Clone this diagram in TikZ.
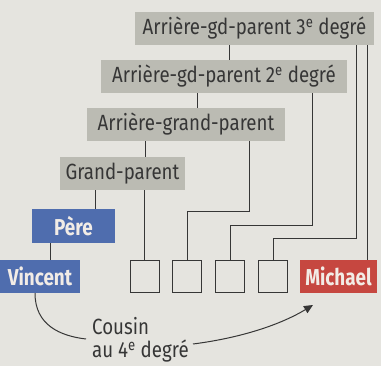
\documentclass[tikz,border=0pt]{standalone}
\usepackage{fontspec}
\setmainfont{Fira Sans}[FakeStretch=0.85]
\newfontfamily\boldfam{Fira Sans}[FakeStretch=0.82]
\usetikzlibrary{arrows.meta}
\definecolor{paper}{HTML}{E5E4DF}
\definecolor{boxgray}{HTML}{BBBBB3}
\definecolor{boxblue}{HTML}{4F6DAE}
\definecolor{boxred}{HTML}{C64740}
\definecolor{ink}{HTML}{363636}
\definecolor{light}{HTML}{F2ECE6}
\tikzset{
  gbox/.style={fill=boxgray, text=ink, inner sep=0pt, minimum height=33pt,
    font=\fontsize{22}{23}\selectfont},
  cbox/.style={inner sep=0pt, minimum height=34pt, text=light,
    font=\boldfam\bfseries\fontsize{23}{24}\selectfont},
  sbox/.style={draw=ink, line width=0.8pt, minimum width=29pt, minimum height=32pt, inner sep=0pt},
  link/.style={draw=ink, line width=0.8pt},
  ctext/.style={anchor=base west, inner sep=0pt, text=ink, font=\fontsize{22}{23}\selectfont},
}
\begin{document}
\begin{tikzpicture}[x=1pt,y=-1pt]
\useasboundingbox (0,0) rectangle (381,366);
\fill[paper] (0,0) rectangle (381,366);
% gray boxes
\node[gbox, minimum width=239pt] (g3) at (254.5,28.5) {Arrière-gd-parent 3\textsuperscript{e} degré};
\node[gbox, minimum width=246pt] (g2) at (224,76.5) {Arrière-gd-parent 2\textsuperscript{e} degré};
\node[gbox, minimum width=198pt] (g1) at (186,124.5) {Arrière-grand-parent};
\node[gbox, minimum width=125pt] (g0) at (122.5,173.5) {Grand-parent};
% coloured boxes
\node[cbox, fill=boxblue, minimum width=83pt] (pere) at (73.5,226) {Père};
\node[cbox, fill=boxblue, minimum width=80pt, minimum height=33pt] (vin) at (40,276.5) {Vincent};
\node[cbox, fill=boxred, minimum width=77pt, minimum height=33pt] (mic) at (338.5,276.5) {Michael};
% small boxes
\node[sbox] (b1) at (144.5,276.5) {};
\node[sbox] (b2) at (187,276.5) {};
\node[sbox] (b3) at (230,276.5) {};
\node[sbox] (b4) at (273,276.5) {};
% ancestry links
\draw[link] (g3.south -| 229,0) -- (g2.north -| 229,0);
\draw[link] (g2.south -| 197,0) -- (g1.north -| 197,0);
\draw[link] (g1.south -| 145,0) -- (g0.north -| 145,0);
\draw[link] (g0.south -| 95,0) -- (pere.north -| 95,0);
\draw[link] (pere.south -| 50,0) -- (vin.north -| 50,0);
% descent links
\draw[link] (g0.south -| b1.north) -- (b1.north);
\draw[link] (g1.south -| 249,0) -- (249,211) -| (b2.north);
\draw[link] (g2.south -| 312,0) -- (312,225) -| (b3.north);
\draw[link] (g3.south -| 356,0) -- (356,238) -| (b4.north);
\draw[link] (g3.south -| 367,0) -- (mic.north -| 367,0);
% cousin arrow
\node[ctext] (cous1) at (92,335) {Cousin};
\node[ctext] (cous2) at (92,358) {au 4\textsuperscript{e} degré};
\coordinate (c1) at (86,339);
\coordinate (c2) at (193,344);
\coordinate (tip) at (313,305);
\draw[link, line width=1pt] (vin.south -| 35,0) .. controls (35,325) and (60,336) .. (c1);
\draw[link, line width=1pt, -{Triangle[length=9pt,width=8pt]}] (c2) .. controls (240,338) and (280,325) .. (tip);
\end{tikzpicture}
\end{document}
